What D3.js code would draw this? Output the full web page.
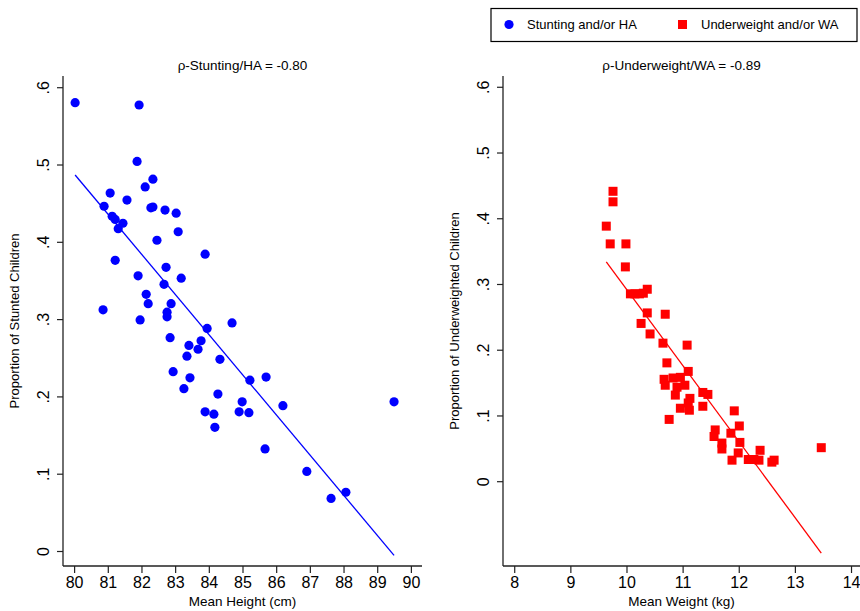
<!doctype html>
<html lang="en">
<head>
<meta charset="utf-8">
<title>Stunting and underweight vs mean height and weight</title>
<script src="https://d3js.org/d3.v7.min.js"></script>
<style>
  body { margin: 0; background: #fff; font-family: "Liberation Sans", Arial, Helvetica, sans-serif; }
  svg text { fill: #000; }
</style>
</head>
<body>
<svg id="chart" width="860" height="611"></svg>
<script>
// mean height (cm) and proportion stunted
var heightX = [80.03, 81.93, 81.87, 82.34, 82.11, 81.07, 81.57, 80.89, 82.28, 82.34,
  82.70, 83.03, 81.13, 81.22, 81.45, 81.31, 83.09, 82.46, 83.89, 81.22,
  82.73, 81.90, 83.18, 82.67, 82.14, 82.20, 82.88, 80.86, 82.76, 82.76,
  81.96, 84.69, 83.95, 82.85, 83.77, 83.41, 83.68, 83.35, 84.33, 82.94,
  83.44, 85.22, 85.70, 83.26, 84.27, 84.99, 86.20, 89.50, 83.89, 84.15,
  84.90, 85.19, 84.18, 85.67, 86.91, 87.63, 88.07];
var stuntY = [0.580, 0.577, 0.504, 0.481, 0.471, 0.463, 0.454, 0.446, 0.444, 0.445,
  0.441, 0.437, 0.433, 0.429, 0.424, 0.417, 0.413, 0.402, 0.384, 0.376,
  0.367, 0.356, 0.353, 0.345, 0.332, 0.320, 0.320, 0.312, 0.309, 0.303,
  0.299, 0.295, 0.288, 0.276, 0.272, 0.266, 0.261, 0.252, 0.248, 0.232,
  0.224, 0.221, 0.225, 0.210, 0.203, 0.193, 0.188, 0.193, 0.180, 0.177,
  0.180, 0.179, 0.160, 0.132, 0.103, 0.068, 0.076];

// mean weight (kg) and proportion underweight
var weightX = [9.76, 9.76, 9.64, 9.71, 9.99, 9.98, 10.07, 10.15, 10.23, 10.30,
  10.37, 10.37, 10.69, 10.26, 10.42, 10.65, 11.08, 10.72, 11.10, 10.67,
  10.69, 10.83, 10.96, 11.04, 10.90, 10.87, 11.36, 11.45, 11.13, 11.10,
  10.96, 11.12, 11.36, 10.76, 11.92, 11.58, 12.01, 11.56, 11.86, 11.70,
  12.02, 11.70, 12.38, 11.99, 11.88, 12.17, 12.27, 12.36, 12.59, 12.63,
  13.47];
var underY = [0.441, 0.425, 0.388, 0.361, 0.361, 0.326, 0.285, 0.285, 0.285, 0.286,
  0.292, 0.256, 0.254, 0.240, 0.224, 0.210, 0.207, 0.180, 0.167, 0.155,
  0.146, 0.157, 0.158, 0.146, 0.143, 0.131, 0.135, 0.132, 0.126, 0.119,
  0.111, 0.108, 0.114, 0.094, 0.107, 0.078, 0.084, 0.068, 0.073, 0.058,
  0.059, 0.049, 0.047, 0.043, 0.032, 0.033, 0.033, 0.032, 0.029, 0.032,
  0.051];

var heightTicks = [80, 81, 82, 83, 84, 85, 86, 87, 88, 89, 90];
var weightTicks = [8, 9, 10, 11, 12, 13, 14];
var propTicks = [0, 0.1, 0.2, 0.3, 0.4, 0.5, 0.6];
var propLabels = ["0", ".1", ".2", ".3", ".4", ".5", ".6"];

var seriesNames = ["Stunting and/or HA", "Underweight and/or WA"];
var panelTitles = ["\u03C1-Stunting/HA = -0.80", "\u03C1-Underweight/WA = -0.89"];
var xTitles = ["Mean Height (cm)", "Mean Weight (kg)"];
var yTitles = ["Proportion of Stunted Children", "Proportion of Underweighted Children"];

var svg = d3.select("#chart");

// least-squares fit over the observed x range
function linFit(xs, ys) {
  var mx = d3.mean(xs), my = d3.mean(ys);
  var sxy = d3.sum(xs, function (x, i) { return (x - mx) * (ys[i] - my); });
  var sxx = d3.sum(xs, function (x) { return (x - mx) * (x - mx); });
  var b = sxy / sxx, a = my - b * mx;
  var ext = d3.extent(xs);
  return [[ext[0], a + b * ext[0]], [ext[1], a + b * ext[1]]];
}

function panel(opt) {
  var x = d3.scaleLinear().domain(opt.xDomain).range([opt.left, opt.right]);
  var y = d3.scaleLinear().domain(opt.yDomain).range([566, 76]);
  var g = svg.append("g");

  var xAxis = d3.axisBottom(x).tickValues(opt.xTicks).tickSize(7).tickPadding(4)
    .tickFormat(d3.format("d"));
  var gx = g.append("g").attr("transform", "translate(0,566)").call(xAxis);
  gx.selectAll("text").style("font-size", "16px").style("font-family", "Liberation Sans, Arial, sans-serif");

  var yAxis = d3.axisLeft(y).tickValues(propTicks).tickSize(6)
    .tickFormat(function (d, i) { return propLabels[i]; });
  var gy = g.append("g").attr("transform", "translate(" + opt.left + ",0)").call(yAxis);
  gy.selectAll("text")
    .attr("x", null).attr("dy", null)
    .attr("text-anchor", "middle")
    .attr("transform", "translate(-14,0) rotate(-90)")
    .style("font-size", "16px").style("font-family", "Liberation Sans, Arial, sans-serif");

  [gx, gy].forEach(function (a) {
    a.select(".domain").attr("stroke", "#222").attr("stroke-width", 1.3);
    a.selectAll(".tick line").attr("stroke", "#222").attr("stroke-width", 1.2);
  });
  // no end caps on the axis lines
  gx.select(".domain").attr("d", "M" + opt.left + ",0H" + opt.right);
  gy.select(".domain").attr("d", "M0,76V566");

  var pts = opt.xs.map(function (v, i) { return [v, opt.ys[i]]; });
  if (opt.shape === "circle") {
    g.selectAll("circle.pt").data(pts).enter().append("circle")
      .attr("cx", function (d) { return x(d[0]); })
      .attr("cy", function (d) { return y(d[1]); })
      .attr("r", 4.6)
      .attr("fill", opt.color);
  } else {
    g.selectAll("rect.pt").data(pts).enter().append("rect")
      .attr("x", function (d) { return x(d[0]) - 4.5; })
      .attr("y", function (d) { return y(d[1]) - 4.5; })
      .attr("width", 9).attr("height", 9)
      .attr("fill", opt.color);
  }

  var fit = linFit(opt.xs, opt.ys);
  g.append("path")
    .attr("d", d3.line().x(function (d) { return x(d[0]); }).y(function (d) { return y(d[1]); })(fit))
    .attr("stroke", opt.color).attr("stroke-width", 1.3).attr("fill", "none");

  var cx = (opt.left + opt.right) / 2;
  g.append("text").attr("x", cx).attr("y", 70).attr("text-anchor", "middle")
    .style("font-size", "13.5px").text(opt.title);
  g.append("text").attr("x", cx).attr("y", 606).attr("text-anchor", "middle")
    .style("font-size", "13.5px").text(opt.xTitle);
  g.append("text").attr("transform", "translate(" + (opt.left - 44) + ",321) rotate(-90)")
    .attr("text-anchor", "middle").style("font-size", "13px").text(opt.yTitle);
}

panel({
  left: 63, right: 422, xDomain: [79.67, 90.33], yDomain: [-0.0194, 0.6145],
  xTicks: heightTicks, xs: heightX, ys: stuntY, color: "#0000ff", shape: "circle",
  title: panelTitles[0], xTitle: xTitles[0], yTitle: yTitles[0]
});
panel({
  left: 503, right: 860, xDomain: [7.80, 14.16], yDomain: [-0.129, 0.6164],
  xTicks: weightTicks, xs: weightX, ys: underY, color: "#ff0000", shape: "rect",
  title: panelTitles[1], xTitle: xTitles[1], yTitle: yTitles[1]
});

// legend
var lg = svg.append("g");
lg.append("rect").attr("x", 491).attr("y", 8.5).attr("width", 366).attr("height", 33)
  .attr("fill", "#fff").attr("stroke", "#000").attr("stroke-width", 1.2);
lg.append("circle").attr("cx", 509).attr("cy", 24.5).attr("r", 4.6).attr("fill", "#0000ff");
lg.append("text").attr("x", 527).attr("y", 29).style("font-size", "13px").text(seriesNames[0]);
lg.append("rect").attr("x", 678).attr("y", 20).attr("width", 9).attr("height", 9).attr("fill", "#ff0000");
lg.append("text").attr("x", 701).attr("y", 29).style("font-size", "13px").text(seriesNames[1]);
</script>
</body>
</html>
